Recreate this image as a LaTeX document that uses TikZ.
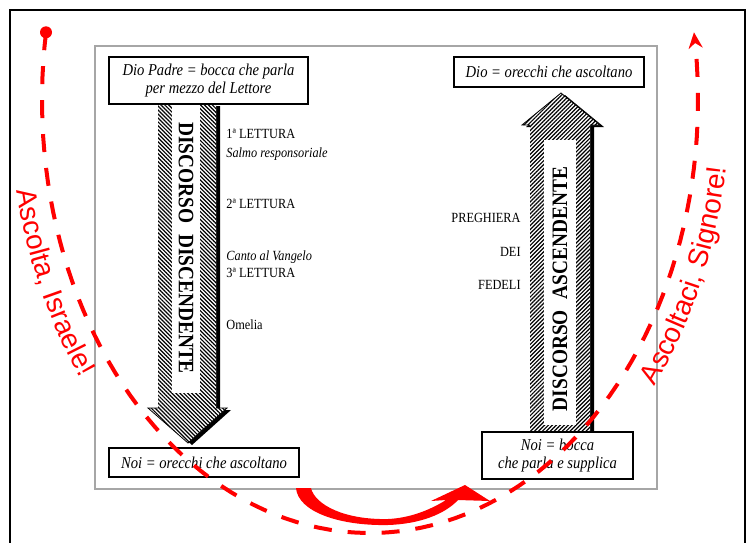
\documentclass[tikz,border=0pt]{standalone}
\usepackage{fontspec}
\setmainfont{Liberation Serif}[FakeStretch=0.88]
\newfontfamily\redsans{Liberation Sans}
\usepackage{tikz}
\usetikzlibrary{arrows.meta}
\usetikzlibrary{patterns.meta}
\usetikzlibrary{decorations.text}
\tikzstyle{box} = [draw, fill=white, line width=0.7pt, inner sep=1pt, align=center, font=\fontsize{8.3}{8.8}\selectfont\itshape]
\tikzstyle{lbl} = [anchor=west, inner sep=0pt, font=\fontsize{7}{8}\selectfont]

\begin{document}
\begin{tikzpicture}[x=0.5pt, y=-0.5pt,
	lblr/.style={lbl, anchor=east},
	disc/.style={inner sep=0pt, font=\fontsize{11}{12}\selectfont\bfseries},
	hatchdn/.style={preaction={fill=white}, pattern={Lines[angle=-45,distance=1.4pt,line width=0.6pt]}, pattern color=black},
	hatchup/.style={preaction={fill=white}, pattern={Lines[angle=45,distance=1.4pt,line width=0.6pt]}, pattern color=black},
	redline/.style={red, line width=2pt, dash pattern=on 9pt off 8pt},
	redtext/.style={decorate, decoration={text along path, text align=center, text color=red, text={|\redsans\fontsize{14}{16}\selectfont|#1}}}]
	\useasboundingbox (0,0) rectangle (750,542);
	\clip (0,0) rectangle (750,542);
	\fill[white] (0,0) rectangle (750,542);

	% cornici
	\draw[line width=1.2pt] (10,560) -- (10,10) -- (745,10) -- (745,560);
	\draw[gray!70, line width=0.6pt] (95,46) rectangle (657,489);

	% discorso discendente
	\fill[black, shift={(4,2)}] (158,104) -- (216,104) -- (216,408) -- (227,408) -- (188,443) -- (148,408) -- (158,408) -- cycle;
	\path[hatchdn] (158,104) -- (216,104) -- (216,408) -- (227,408) -- (188,443) -- (148,408) -- (158,408) -- cycle;
	\draw[line width=0.4pt] (158,408) -- (148,408) -- (188,443) -- (227,408) -- (216,408);
	\fill[white] (172,104) rectangle (200,393);
	\node[disc, rotate=-90] (discendente) at (186,248) {DISCORSO\hspace{3pt} DISCENDENTE};

	% discorso ascendente
	\fill[black, shift={(4,2)}] (530,432) -- (530,125) -- (522,125) -- (561,93) -- (600,125) -- (590,125) -- (590,432) -- cycle;
	\path[hatchup] (530,432) -- (530,125) -- (522,125) -- (561,93) -- (600,125) -- (590,125) -- (590,432) -- cycle;
	\draw[line width=0.4pt] (530,125) -- (522,125) -- (561,93) -- (600,125) -- (590,125);
	\fill[white] (544,140) rectangle (576,425);
	\node[disc, rotate=90] (ascendente) at (560,289) {DISCORSO\hspace{3pt} ASCENDENTE};

	\node[box, minimum width=99.5pt, minimum height=23.5pt] (padre) at (208.5,80.5) {Dio Padre = bocca che parla\\per mezzo del Lettore};
	\node[box, minimum width=95pt, minimum height=15pt] (dio) at (549,72) {Dio = orecchi che ascoltano};
	\node[box, minimum width=95pt, minimum height=14.5pt] (noi) at (204,462.5) {Noi = orecchi che ascoltano};
	\node[box, minimum width=75.5pt, minimum height=23.5pt] (supplica) at (557.5,455.5) {Noi = bocca\\che parla e supplica};

	\node[lbl] (let1) at (226,134) {1ª LETTURA};
	\node[lbl, font=\fontsize{7}{8}\selectfont\itshape] (salmo) at (226,154) {Salmo responsoriale};
	\node[lbl] (let2) at (226,204) {2ª LETTURA};
	\node[lbl, font=\fontsize{7}{8}\selectfont\itshape] (canto) at (226,257) {Canto al Vangelo};
	\node[lbl] (let3) at (226,273) {3ª LETTURA};
	\node[lbl] (omelia) at (226,325) {Omelia};

	\node[lblr] (preghiera) at (521,217.5) {PREGHIERA};
	\node[lblr] (dei) at (521,252) {DEI};
	\node[lblr] (fedeli) at (521,285) {FEDELI};

	% risposta
	\fill[red] (296,488) .. controls (298,512) and (340,526) .. (388,525) .. controls (420,524) and (445,514) .. (458,500) -- (490,501) -- (465,485) -- (431,501) -- (446,500) .. controls (430,510) and (410,518) .. (388,519) .. controls (345,520) and (315,505) .. (311,488) -- cycle;

	% ascolto
	\coordinate (inizio) at (46,32.3);
	\fill[red] (inizio) circle[radius=3pt];
	\draw[redline, -{Stealth[length=8pt,width=7pt]}] plot[domain=-9:189, samples=100, variable=\s] ({370-328*cos(\s)},{100+433*sin(\s)});
	\path[redtext={Ascolta, Israele!}] plot[domain=6:42, samples=40, variable=\s] ({370-360*cos(\s)},{100+468*sin(\s)});
	\path[redtext={Ascoltaci, Signore!}] plot[domain=142:172, samples=40, variable=\s] ({370-360*cos(\s)},{100+468*sin(\s)});
\end{tikzpicture}
\end{document}
